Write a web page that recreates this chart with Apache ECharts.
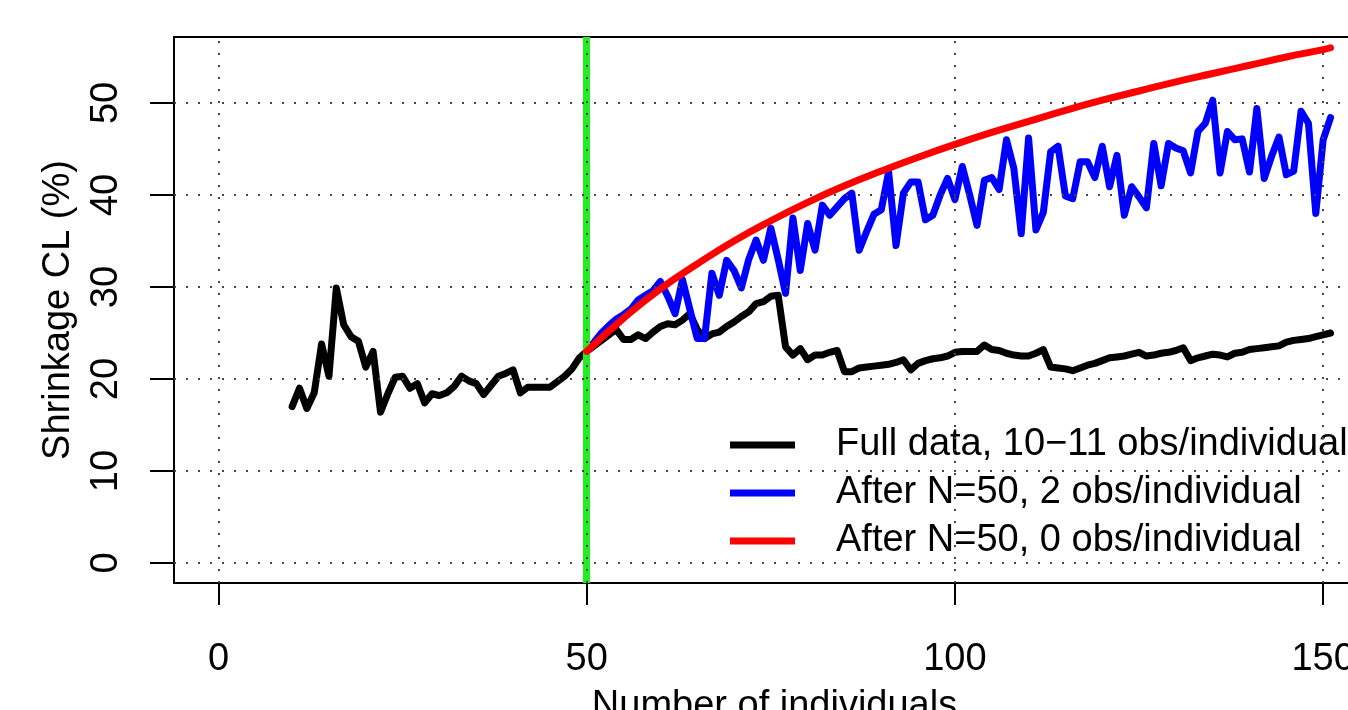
<!DOCTYPE html>
<html>
<head>
<meta charset="utf-8">
<script src="https://cdn.jsdelivr.net/npm/echarts@6/dist/echarts.min.js"></script>
<style>
html, body { margin: 0; padding: 0; background: #fff; }
#chart { width: 1348px; height: 710px; }
</style>
</head>
<body>
<div id="chart"></div>
<script>
// axis ticks
var xTicks = [0, 50, 100, 150];
var yTicks = [0, 10, 20, 30, 40, 50];
var cutoffN = 50;

// full data, one value per N starting at N=10
var fullStart = 10;
var fullData = [
	17.0, 19.0, 16.8, 18.5, 23.8, 20.3, 29.9, 25.9, 24.6, 24.1,
	21.3, 23.0, 16.4, 18.4, 20.2, 20.3, 19.0, 19.5, 17.4, 18.4,
	18.2, 18.5, 19.2, 20.3, 19.8, 19.5, 18.3, 19.3, 20.3, 20.6,
	21.0, 18.5, 19.1, 19.1, 19.1, 19.1, 19.7, 20.3, 21.1, 22.3,
	23.0, 23.6, 24.2, 24.8, 25.4, 24.3, 24.3, 24.8, 24.4, 25.1,
	25.7, 26.0, 25.9, 26.4, 27.1, 25.4, 24.4, 24.9, 25.1, 25.7,
	26.2, 26.8, 27.3, 28.2, 28.4, 29.0, 29.1, 23.5, 22.6, 23.3,
	22.1, 22.6, 22.6, 22.9, 23.1, 20.8, 20.8, 21.2, 21.3, 21.4,
	21.5, 21.6, 21.8, 22.1, 21.0, 21.7, 22.0, 22.2, 22.3, 22.5,
	22.9, 23.0, 23.0, 23.0, 23.7, 23.2, 23.1, 22.8, 22.6, 22.5,
	22.5, 22.8, 23.2, 21.3, 21.2, 21.1, 20.9, 21.2, 21.5, 21.7,
	22.0, 22.3, 22.4, 22.5, 22.7, 22.9, 22.5, 22.6, 22.8, 22.9,
	23.1, 23.4, 22.0, 22.3, 22.5, 22.7, 22.6, 22.4, 22.8, 22.9,
	23.2, 23.3, 23.4, 23.5, 23.6, 24.0, 24.2, 24.3, 24.4, 24.6,
	24.8, 25.0
];

// after N=50, 2 obs/individual, starting at N=50
var twoObsStart = 50;
var twoObs = [
	23.1, 24.0, 25.0, 25.8, 26.5, 27.0, 27.6, 28.6, 29.1, 29.6,
	30.6, 29.0, 27.1, 30.8, 27.6, 24.4, 24.4, 31.5, 29.1, 32.9,
	31.8, 29.9, 33.0, 35.1, 32.9, 36.4, 33.0, 29.3, 37.5, 31.8,
	36.9, 34.0, 38.9, 37.8, 38.7, 39.6, 40.2, 34.0, 36.0, 37.9,
	38.4, 42.5, 34.5, 40.2, 41.4, 41.4, 37.3, 37.8, 40.0, 41.8,
	39.5, 43.1, 40.0, 36.7, 41.6, 41.9, 40.6, 46.0, 42.9, 35.8,
	46.2, 36.2, 38.1, 44.7, 45.3, 39.9, 39.6, 43.6, 43.6, 41.9,
	45.3, 40.9, 44.3, 37.8, 40.9, 39.8, 38.6, 45.6, 41.0, 45.6,
	45.1, 44.8, 42.4, 46.9, 47.8, 50.3, 42.4, 46.9, 46.0, 46.1,
	42.5, 49.4, 41.8, 44.2, 46.3, 42.2, 42.6, 49.1, 47.8, 38.0,
	46.0, 48.4
];

// after N=50, 0 obs/individual (smooth curve)
var zeroObsN = [50, 55, 60, 65, 70, 75, 80, 85, 90, 95, 100, 105, 110, 115, 120, 125, 130, 135, 140, 145, 150, 151];
var zeroObs = [23.0, 26.6, 29.8, 32.5, 35.0, 37.2, 39.2, 41.0, 42.6, 44.1, 45.5, 46.8, 48.0, 49.2, 50.3, 51.3, 52.3, 53.2, 54.1, 55.0, 55.8, 56.0];

var names = ['Full data, 10\u221211 obs/individual', 'After N=50, 2 obs/individual', 'After N=50, 0 obs/individual'];

function pairs(start, vals) {
	var out = [];
	for (var i = 0; i < vals.length; i++) out.push([start + i, vals[i]]);
	return out;
}
var zeroPairs = zeroObsN.map(function (n, i) { return [n, zeroObs[i]]; });

var font = 'Liberation Sans';
var chart = echarts.init(document.getElementById('chart'));

var option = {
	backgroundColor: '#fff',
	animation: false,
	grid: {
		left: 174, top: 37, width: 1201, height: 546,
		outerBoundsMode: 'none', containLabel: false,
		show: true, borderColor: '#000', borderWidth: 2, backgroundColor: 'transparent'
	},
	legend: {
		data: names,
		orient: 'vertical',
		left: 730, top: 423, padding: 0,
		icon: 'rect',
		itemWidth: 65, itemHeight: 7, itemGap: 4,
		textStyle: { fontSize: 38, color: '#000', fontFamily: font, lineHeight: 44, padding: [0, 0, 0, 36] }
	},
	xAxis: {
		type: 'value', min: -6.04, max: 157.04,
		name: 'Number of individuals', nameLocation: 'middle', nameGap: 105,
		nameTextStyle: { fontSize: 38, color: '#000', fontFamily: font },
		axisLine: { show: false, onZero: false },
		splitLine: { show: false },
		axisTick: { show: true, customValues: xTicks, length: 22, lineStyle: { color: '#000', width: 2 } },
		axisLabel: { customValues: xTicks, fontSize: 38, color: '#000', fontFamily: font, margin: 58 }
	},
	yAxis: {
		type: 'value', min: -2.17, max: 57.17,
		name: 'Shrinkage CL (%)', nameLocation: 'middle', nameGap: 96, nameRotate: 90,
		nameTextStyle: { fontSize: 38, color: '#000', fontFamily: font },
		axisLine: { show: false, onZero: false },
		splitLine: { show: false },
		axisTick: { show: true, customValues: yTicks, length: 24, lineStyle: { color: '#000', width: 2 } },
		axisLabel: { customValues: yTicks, rotate: 90, fontSize: 38, color: '#000', fontFamily: font, margin: 48 }
	},
	series: [
		{
			name: 'cutoff', type: 'line', data: [], z: 1, silent: true,
			markLine: {
				silent: true, symbol: 'none', label: { show: false },
				lineStyle: { color: '#22ee22', width: 7, type: 'solid' },
				data: [{ xAxis: cutoffN }]
			}
		},
		{
			name: 'gridlines', type: 'line', data: [], z: 2, silent: true,
			markLine: {
				silent: true, symbol: 'none', label: { show: false },
				lineStyle: { color: '#444', width: 2, type: [2, 10] },
				data: xTicks.map(function (v) { return { xAxis: v }; })
					.concat(yTicks.map(function (v) { return { yAxis: v }; }))
			}
		},
		{
			name: names[0], type: 'line', z: 3, symbol: 'none', color: '#000',
			lineStyle: { width: 7, color: '#000', cap: 'round', join: 'round' },
			data: pairs(fullStart, fullData)
		},
		{
			name: names[1], type: 'line', z: 4, symbol: 'none', color: '#0000ff',
			lineStyle: { width: 7, color: '#0000ff', cap: 'round', join: 'round' },
			data: pairs(twoObsStart, twoObs)
		},
		{
			name: names[2], type: 'line', z: 5, symbol: 'none', smooth: true, color: '#ff0000',
			lineStyle: { width: 7, color: '#ff0000', cap: 'round', join: 'round' },
			data: zeroPairs
		}
	]
};
chart.setOption(option);
</script>
</body>
</html>
